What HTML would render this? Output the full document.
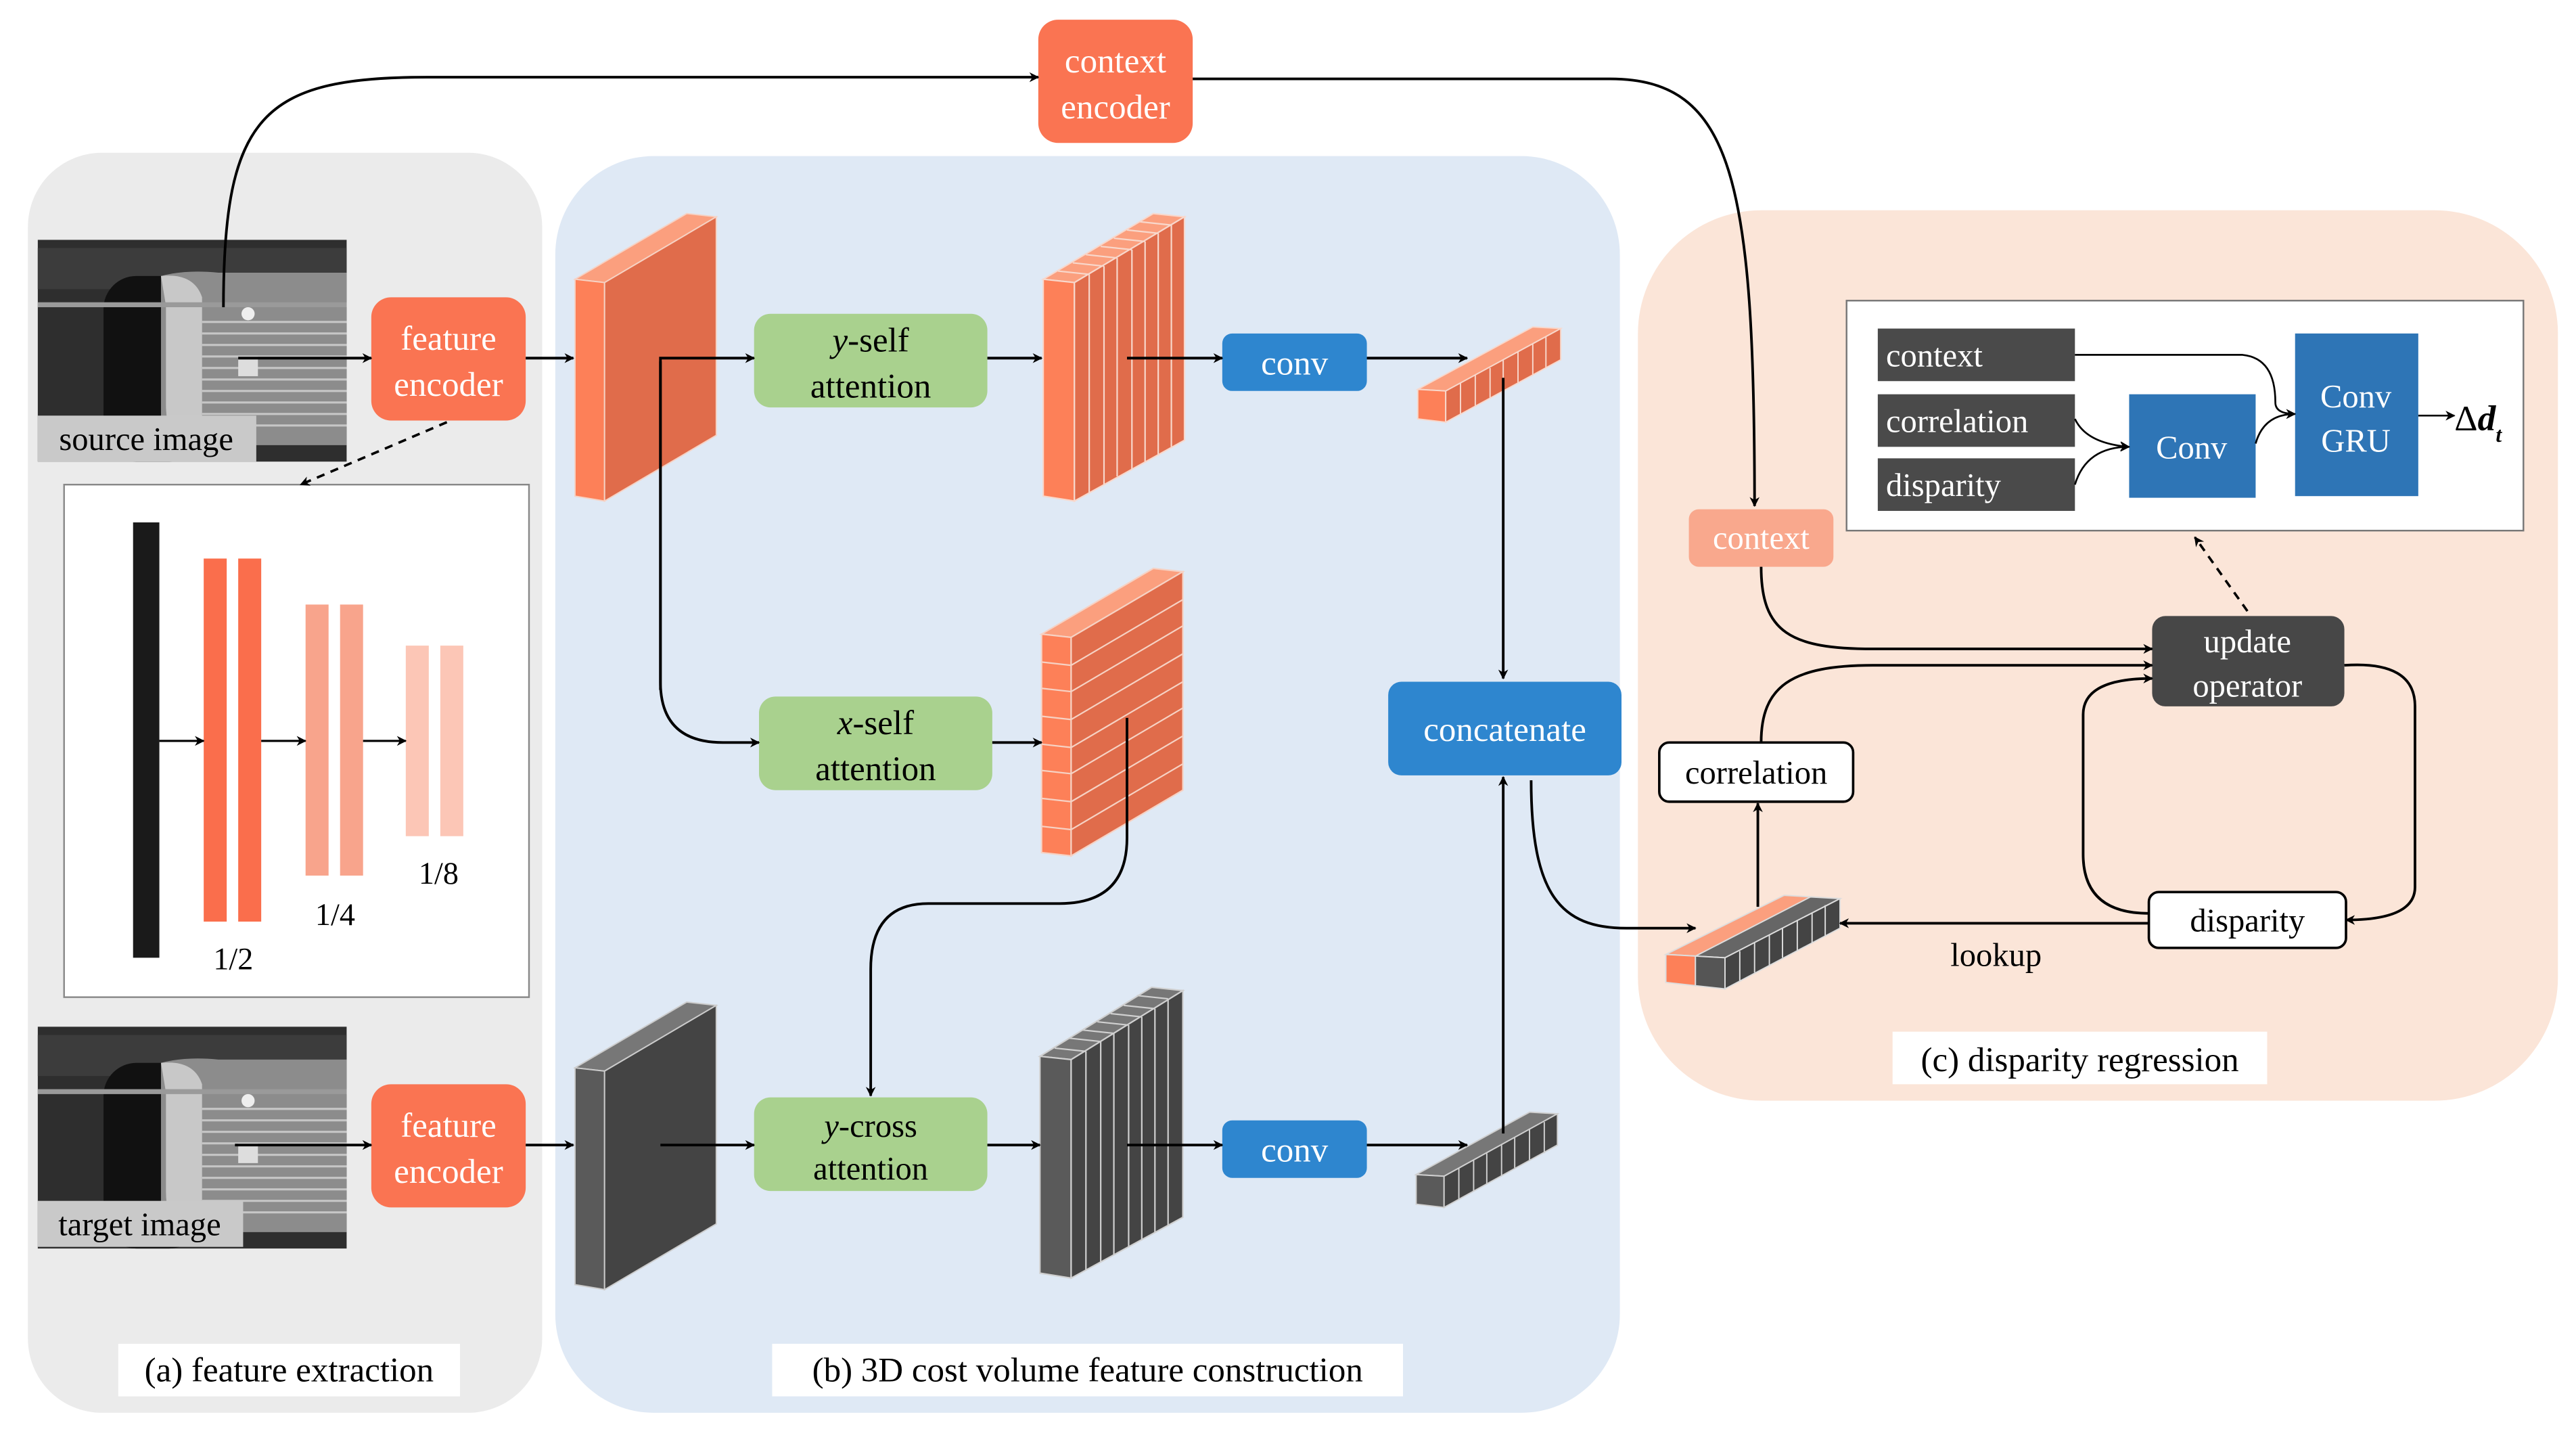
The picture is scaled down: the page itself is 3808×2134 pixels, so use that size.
<!DOCTYPE html>
<html><head><meta charset="utf-8"><style>
html,body{margin:0;padding:0;background:#fff;}
svg{display:block;}
text{font-family:"Liberation Serif",serif;}
</style></head><body>
<svg width="3808" height="2134" viewBox="0 0 1568 879" preserveAspectRatio="none" xmlns="http://www.w3.org/2000/svg">
<defs>
<marker id="a" viewBox="0 0 10 10" refX="9" refY="5" markerWidth="6" markerHeight="6" orient="auto-start-reverse" markerUnits="userSpaceOnUse"><path d="M0,0 L10,5 L0,10 L3,5 z" fill="#000"/></marker>
<g id="img">
<rect x="0" y="0" width="188" height="135" fill="#2e2e2e"/>
<rect x="0" y="5" width="188" height="25" fill="#3c3c3c"/>
<rect x="40" y="22" width="60" height="113" rx="20" fill="#111"/>
<path d="M75,22 Q90,18 110,20 L188,20 L188,125 L110,125 Q90,125 75,118 Z" fill="#8c8c8c"/>
<path d="M75,22 Q95,20 100,35 L100,110 Q100,125 110,128 L90,130 Q78,120 78,100 L78,40 Z" fill="#c8c8c8"/>
<g stroke="#c6c6c6" stroke-width="1.3">
<line x1="100" y1="50" x2="188" y2="50"/><line x1="100" y1="57" x2="188" y2="57"/><line x1="100" y1="64" x2="188" y2="64"/><line x1="100" y1="71" x2="188" y2="71"/><line x1="100" y1="78" x2="188" y2="78"/><line x1="100" y1="85" x2="188" y2="85"/><line x1="100" y1="92" x2="188" y2="92"/><line x1="100" y1="99" x2="188" y2="99"/><line x1="100" y1="106" x2="188" y2="106"/><line x1="100" y1="113" x2="188" y2="113"/>
</g>
<rect x="0" y="38" width="188" height="3" fill="#9a9a9a"/>
<circle cx="128" cy="45" r="4" fill="#eee"/>
<rect x="122" y="71" width="12" height="12" fill="#ddd"/>
</g>
</defs>

<!-- panels -->
<rect x="17" y="93" width="313" height="767" rx="45" fill="#ebebeb"/>
<rect x="338" y="95" width="648" height="765" rx="60" fill="#dfe9f5"/>
<rect x="997" y="128" width="560" height="542" rx="75" fill="#fbe5d8"/>

<!-- images -->
<use href="#img" x="23" y="146"/>
<rect x="23" y="253" width="133" height="28" fill="#c9c9c9"/>
<text x="89" y="274" font-size="20" text-anchor="middle">source image</text>
<use href="#img" x="23" y="625"/>
<rect x="23" y="731" width="125" height="28" fill="#c9c9c9"/>
<text x="85" y="752" font-size="20" text-anchor="middle">target image</text>

<!-- encoders -->
<rect x="226" y="181" width="94" height="75" rx="12" fill="#fa7452"/>
<text x="273" y="213" font-size="21" fill="#fff" text-anchor="middle">feature</text>
<text x="273" y="241" font-size="21" fill="#fff" text-anchor="middle">encoder</text>
<rect x="226" y="660" width="94" height="75" rx="12" fill="#fa7452"/>
<text x="273" y="692" font-size="21" fill="#fff" text-anchor="middle">feature</text>
<text x="273" y="720" font-size="21" fill="#fff" text-anchor="middle">encoder</text>
<rect x="632" y="12" width="94" height="75" rx="12" fill="#fa7452"/>
<text x="679" y="44" font-size="21" fill="#fff" text-anchor="middle">context</text>
<text x="679" y="72" font-size="21" fill="#fff" text-anchor="middle">encoder</text>

<!-- inset (a) -->
<rect x="39" y="295" width="283" height="312" fill="#fff" stroke="#888" stroke-width="1"/>
<rect x="81" y="318" width="16" height="265" fill="#1a1a1a"/>
<rect x="124" y="340" width="14" height="221" fill="#fa6e4c"/>
<rect x="145" y="340" width="14" height="221" fill="#fa6e4c"/>
<rect x="186" y="368" width="14" height="165" fill="#f8a48c"/>
<rect x="207" y="368" width="14" height="165" fill="#f8a48c"/>
<rect x="247" y="393" width="14" height="116" fill="#fcc6b6"/>
<rect x="268" y="393" width="14" height="116" fill="#fcc6b6"/>
<g stroke="#000" stroke-width="1.3" fill="none" marker-end="url(#a)">
<line x1="97" y1="451" x2="124" y2="451"/><line x1="159" y1="451" x2="186" y2="451"/><line x1="221" y1="451" x2="247" y2="451"/>
</g>
<text x="142" y="590" font-size="19" text-anchor="middle">1/2</text>
<text x="204" y="563" font-size="19" text-anchor="middle">1/4</text>
<text x="267" y="538" font-size="19" text-anchor="middle">1/8</text>
<line x1="272" y1="257" x2="183" y2="295" stroke="#000" stroke-width="1.5" stroke-dasharray="5,4" marker-end="url(#a)"/>

<!-- slabs -->
<g stroke="#f6d2c4" stroke-width="0.8">
<polygon points="350,170 368,172 436,132 418,130" fill="#fb9f7e"/>
<polygon points="350,170 368,172 368,305 350,302" fill="#fd8058"/>
<polygon points="368,172 436,132 436,265 368,305" fill="#e06c4b"/>
</g>
<g stroke="#ccc" stroke-width="0.8">
<polygon points="350,650 368,652 436,612 418,610" fill="#777"/>
<polygon points="350,650 368,652 368,785 350,782" fill="#5a5a5a"/>
<polygon points="368,652 436,612 436,745 368,785" fill="#444"/>
</g>
<!-- striped orange (y-self out) -->
<g stroke="#f8d8cc" stroke-width="0.9">
<polygon points="635,170 654,172 721,132 702,130" fill="#fb9f7e"/>
<polygon points="635,170 654,172 654,305 635,302" fill="#fd8058"/>
<polygon points="654,172 721,132 721,268 654,305" fill="#e06c4b"/>
<line x1="663" y1="167" x2="663" y2="300"/><line x1="672" y1="162" x2="672" y2="295"/><line x1="680" y1="157" x2="680" y2="290"/><line x1="689" y1="152" x2="689" y2="286"/><line x1="697" y1="147" x2="697" y2="281"/><line x1="705" y1="142" x2="705" y2="277"/><line x1="713" y1="137" x2="713" y2="272"/>
<line x1="644" y1="165" x2="663" y2="167"/><line x1="653" y1="160" x2="672" y2="162"/><line x1="661" y1="155" x2="680" y2="157"/><line x1="670" y1="150" x2="689" y2="152"/><line x1="678" y1="145" x2="697" y2="147"/><line x1="686" y1="140" x2="705" y2="142"/><line x1="694" y1="135" x2="713" y2="137"/>
</g>
<!-- striped gray (y-cross out) -->
<g stroke="#d0d0d0" stroke-width="0.9">
<polygon points="633,643 652,645 720,603 701,601" fill="#777"/>
<polygon points="633,643 652,645 652,778 633,775" fill="#5a5a5a"/>
<polygon points="652,645 720,603 720,741 652,778" fill="#444"/>
<line x1="661" y1="640" x2="661" y2="773"/><line x1="670" y1="634" x2="670" y2="768"/><line x1="678" y1="629" x2="678" y2="764"/><line x1="687" y1="624" x2="687" y2="759"/><line x1="695" y1="619" x2="695" y2="755"/><line x1="703" y1="614" x2="703" y2="750"/><line x1="711" y1="608" x2="711" y2="746"/>
<line x1="642" y1="638" x2="661" y2="640"/><line x1="651" y1="632" x2="670" y2="634"/><line x1="659" y1="627" x2="678" y2="629"/><line x1="668" y1="622" x2="687" y2="624"/><line x1="676" y1="617" x2="695" y2="619"/><line x1="684" y1="612" x2="703" y2="614"/><line x1="692" y1="606" x2="711" y2="608"/>
</g>
<!-- brick (x-self out) -->
<g stroke="#f6d2c4" stroke-width="0.9">
<polygon points="634,386 652,388 720,348 702,346" fill="#fb9f7e"/>
<polygon points="634,386 652,388 652,521 634,519" fill="#fd8058"/>
<polygon points="652,388 720,348 720,481 652,521" fill="#e06c4b"/>
<line x1="634" y1="403" x2="652" y2="405"/><line x1="652" y1="405" x2="720" y2="365"/>
<line x1="634" y1="419" x2="652" y2="421"/><line x1="652" y1="421" x2="720" y2="381"/>
<line x1="634" y1="436" x2="652" y2="438"/><line x1="652" y1="438" x2="720" y2="398"/>
<line x1="634" y1="453" x2="652" y2="455"/><line x1="652" y1="455" x2="720" y2="415"/>
<line x1="634" y1="469" x2="652" y2="471"/><line x1="652" y1="471" x2="720" y2="431"/>
<line x1="634" y1="486" x2="652" y2="488"/><line x1="652" y1="488" x2="720" y2="448"/>
<line x1="634" y1="503" x2="652" y2="505"/><line x1="652" y1="505" x2="720" y2="465"/>
</g>
<!-- small bars -->
<g stroke="#f8d8cc" stroke-width="0.8">
<polygon points="863,237 880,238 950,200 933,199" fill="#fb9f7e"/>
<polygon points="863,237 880,238 880,257 863,255" fill="#fd8058"/>
<polygon points="880,238 950,200 950,219 880,257" fill="#e06c4b"/>
<line x1="889" y1="233" x2="889" y2="252"/><line x1="898" y1="228" x2="898" y2="247"/><line x1="907" y1="224" x2="907" y2="242"/><line x1="915" y1="219" x2="915" y2="238"/><line x1="924" y1="214" x2="924" y2="233"/><line x1="933" y1="209" x2="933" y2="228"/><line x1="941" y1="205" x2="941" y2="224"/>
</g>
<g stroke="#d0d0d0" stroke-width="0.8">
<polygon points="862,715 879,716 948,678 931,677" fill="#777"/>
<polygon points="862,715 879,716 879,735 862,733" fill="#5a5a5a"/>
<polygon points="879,716 948,678 948,697 879,735" fill="#444"/>
<line x1="888" y1="711" x2="888" y2="730"/><line x1="897" y1="706" x2="897" y2="725"/><line x1="905" y1="702" x2="905" y2="721"/><line x1="914" y1="697" x2="914" y2="716"/><line x1="922" y1="692" x2="922" y2="711"/><line x1="931" y1="687" x2="931" y2="706"/><line x1="940" y1="683" x2="940" y2="702"/>
</g>
<!-- lookup bar -->
<g stroke="#ddd" stroke-width="0.8">
<polygon points="1014,581 1050,583 1120,547 1086,545" fill="#fb9f7e"/>
<polygon points="1032,582 1050,583 1120,547 1102,546" fill="#666"/>
<polygon points="1014,581 1032,582 1032,600 1014,598" fill="#fd8058"/>
<polygon points="1032,582 1050,583 1050,602 1032,600" fill="#555"/>
<polygon points="1050,583 1120,547 1120,565 1050,602" fill="#444"/>
<line x1="1059" y1="579" x2="1059" y2="597"/><line x1="1068" y1="574" x2="1068" y2="592"/><line x1="1077" y1="569" x2="1077" y2="588"/><line x1="1085" y1="565" x2="1085" y2="583"/><line x1="1094" y1="560" x2="1094" y2="579"/><line x1="1103" y1="556" x2="1103" y2="574"/><line x1="1111" y1="551" x2="1111" y2="570"/>
</g>

<!-- green / blue boxes -->
<rect x="459" y="191" width="142" height="57" rx="10" fill="#a9d18e"/>
<text x="530" y="214" font-size="21" text-anchor="middle"><tspan font-style="italic">y</tspan>-self</text>
<text x="530" y="242" font-size="21" text-anchor="middle">attention</text>
<rect x="462" y="424" width="142" height="57" rx="10" fill="#a9d18e"/>
<text x="533" y="447" font-size="21" text-anchor="middle"><tspan font-style="italic">x</tspan>-self</text>
<text x="533" y="475" font-size="21" text-anchor="middle">attention</text>
<rect x="459" y="668" width="142" height="57" rx="10" fill="#a9d18e"/>
<text x="530" y="692" font-size="20" text-anchor="middle"><tspan font-style="italic">y</tspan>-cross</text>
<text x="530" y="718" font-size="20" text-anchor="middle">attention</text>
<rect x="744" y="203" width="88" height="35" rx="6" fill="#2e86cf"/>
<text x="788" y="228" font-size="21" fill="#fff" text-anchor="middle">conv</text>
<rect x="744" y="682" width="88" height="35" rx="6" fill="#2e86cf"/>
<text x="788" y="707" font-size="21" fill="#fff" text-anchor="middle">conv</text>
<rect x="845" y="415" width="142" height="57" rx="8" fill="#2e86cf"/>
<text x="916" y="451" font-size="21" fill="#fff" text-anchor="middle">concatenate</text>

<!-- panel c nodes -->
<rect x="1028" y="310" width="88" height="35" rx="6" fill="#f9a88d"/>
<text x="1072" y="334" font-size="20" fill="#fff" text-anchor="middle">context</text>
<rect x="1010" y="452" width="118" height="36" rx="6" fill="#fff" stroke="#000" stroke-width="1.5"/>
<text x="1069" y="477" font-size="20" text-anchor="middle">correlation</text>
<rect x="1310" y="375" width="117" height="55" rx="8" fill="#474747"/>
<text x="1368" y="397" font-size="20" fill="#fff" text-anchor="middle">update</text>
<text x="1368" y="424" font-size="20" fill="#fff" text-anchor="middle">operator</text>
<rect x="1308" y="543" width="120" height="34" rx="6" fill="#fff" stroke="#000" stroke-width="1.5"/>
<text x="1368" y="567" font-size="20" text-anchor="middle">disparity</text>
<text x="1215" y="588" font-size="20" text-anchor="middle">lookup</text>

<!-- inset c -->
<rect x="1124" y="183" width="412" height="140" fill="#fff" stroke="#777" stroke-width="1"/>
<rect x="1143" y="200" width="120" height="32" fill="#4a4a4a"/>
<text x="1148" y="223" font-size="20" fill="#fff">context</text>
<rect x="1143" y="240" width="120" height="32" fill="#4a4a4a"/>
<text x="1148" y="263" font-size="20" fill="#fff">correlation</text>
<rect x="1143" y="279" width="120" height="32" fill="#4a4a4a"/>
<text x="1148" y="302" font-size="20" fill="#fff">disparity</text>
<rect x="1296" y="240" width="77" height="63" fill="#2e75b6"/>
<text x="1334" y="279" font-size="20" fill="#fff" text-anchor="middle">Conv</text>
<rect x="1397" y="203" width="75" height="99" fill="#2e75b6"/>
<text x="1434" y="248" font-size="20" fill="#fff" text-anchor="middle">Conv</text>
<text x="1434" y="275" font-size="20" fill="#fff" text-anchor="middle">GRU</text>
<text x="1494" y="262" font-size="22" font-weight="bold"><tspan font-weight="normal">Δ</tspan><tspan font-style="italic">d</tspan><tspan font-size="13" font-style="italic" dy="7">t</tspan></text>
<g stroke="#000" stroke-width="1.1" fill="none" marker-end="url(#a)">
<path d="M1263,216 L1365,216 Q1385,218 1385,245 Q1385,252 1397,252"/>
<path d="M1263,255 Q1270,270 1296,272"/>
<path d="M1263,295 Q1270,272 1296,272"/>
<path d="M1373,270 Q1378,252 1397,252"/>
<line x1="1472" y1="253" x2="1494" y2="253"/>
</g>

<!-- connectors -->
<g stroke="#000" stroke-width="1.6" fill="none" marker-end="url(#a)">
<path d="M136,187 C136,70 160,47 260,47 L632,47"/>
<path d="M726,48 L980,48 C1055,48 1068,110 1068,308"/>
<line x1="145" y1="218" x2="226" y2="218"/>
<line x1="143" y1="697" x2="226" y2="697"/>
<line x1="320" y1="218" x2="349" y2="218"/>
<line x1="320" y1="697" x2="349" y2="697"/>
<path d="M402,420 L402,218 L459,218" />
<path d="M402,220 L402,415 Q402,452 440,452 L462,452"/>
<line x1="601" y1="218" x2="634" y2="218"/>
<line x1="686" y1="218" x2="744" y2="218"/>
<line x1="832" y1="218" x2="893" y2="218"/>
<line x1="915" y1="230" x2="915" y2="413"/>
<line x1="604" y1="452" x2="634" y2="452"/>
<path d="M686,437 L686,510 Q686,550 645,550 L565,550 Q530,550 530,590 L530,667"/>
<line x1="402" y1="697" x2="459" y2="697"/>
<line x1="601" y1="697" x2="633" y2="697"/>
<line x1="686" y1="697" x2="744" y2="697"/>
<line x1="832" y1="697" x2="893" y2="697"/>
<line x1="915" y1="690" x2="915" y2="473"/>
<path d="M932,475 C932,545 950,565 990,565 L1032,565"/>
<line x1="1070" y1="552" x2="1070" y2="489"/>
<path d="M1072,452 C1072,418 1090,405 1140,405 L1310,405"/>
<path d="M1072,345 C1072,385 1090,395 1140,395 L1310,395"/>
<path d="M1427,405 Q1470,402 1470,430 L1470,540 Q1470,560 1428,560"/>
<path d="M1308,556 Q1268,556 1268,520 L1268,435 Q1268,413 1310,413"/>
<line x1="1308" y1="562" x2="1120" y2="562"/>
</g>
<line x1="1368" y1="372" x2="1336" y2="327" stroke="#000" stroke-width="1.5" stroke-dasharray="5,4" marker-end="url(#a)"/>

<!-- panel labels -->
<rect x="72" y="818" width="208" height="32" fill="#fff"/>
<text x="176" y="841" font-size="21" text-anchor="middle">(a) feature extraction</text>
<rect x="470" y="818" width="384" height="32" fill="#fff"/>
<text x="662" y="841" font-size="21" text-anchor="middle">(b) 3D cost volume feature construction</text>
<rect x="1152" y="628" width="228" height="32" fill="#fff"/>
<text x="1266" y="652" font-size="21" text-anchor="middle">(c) disparity regression</text>
</svg>
</body></html>
